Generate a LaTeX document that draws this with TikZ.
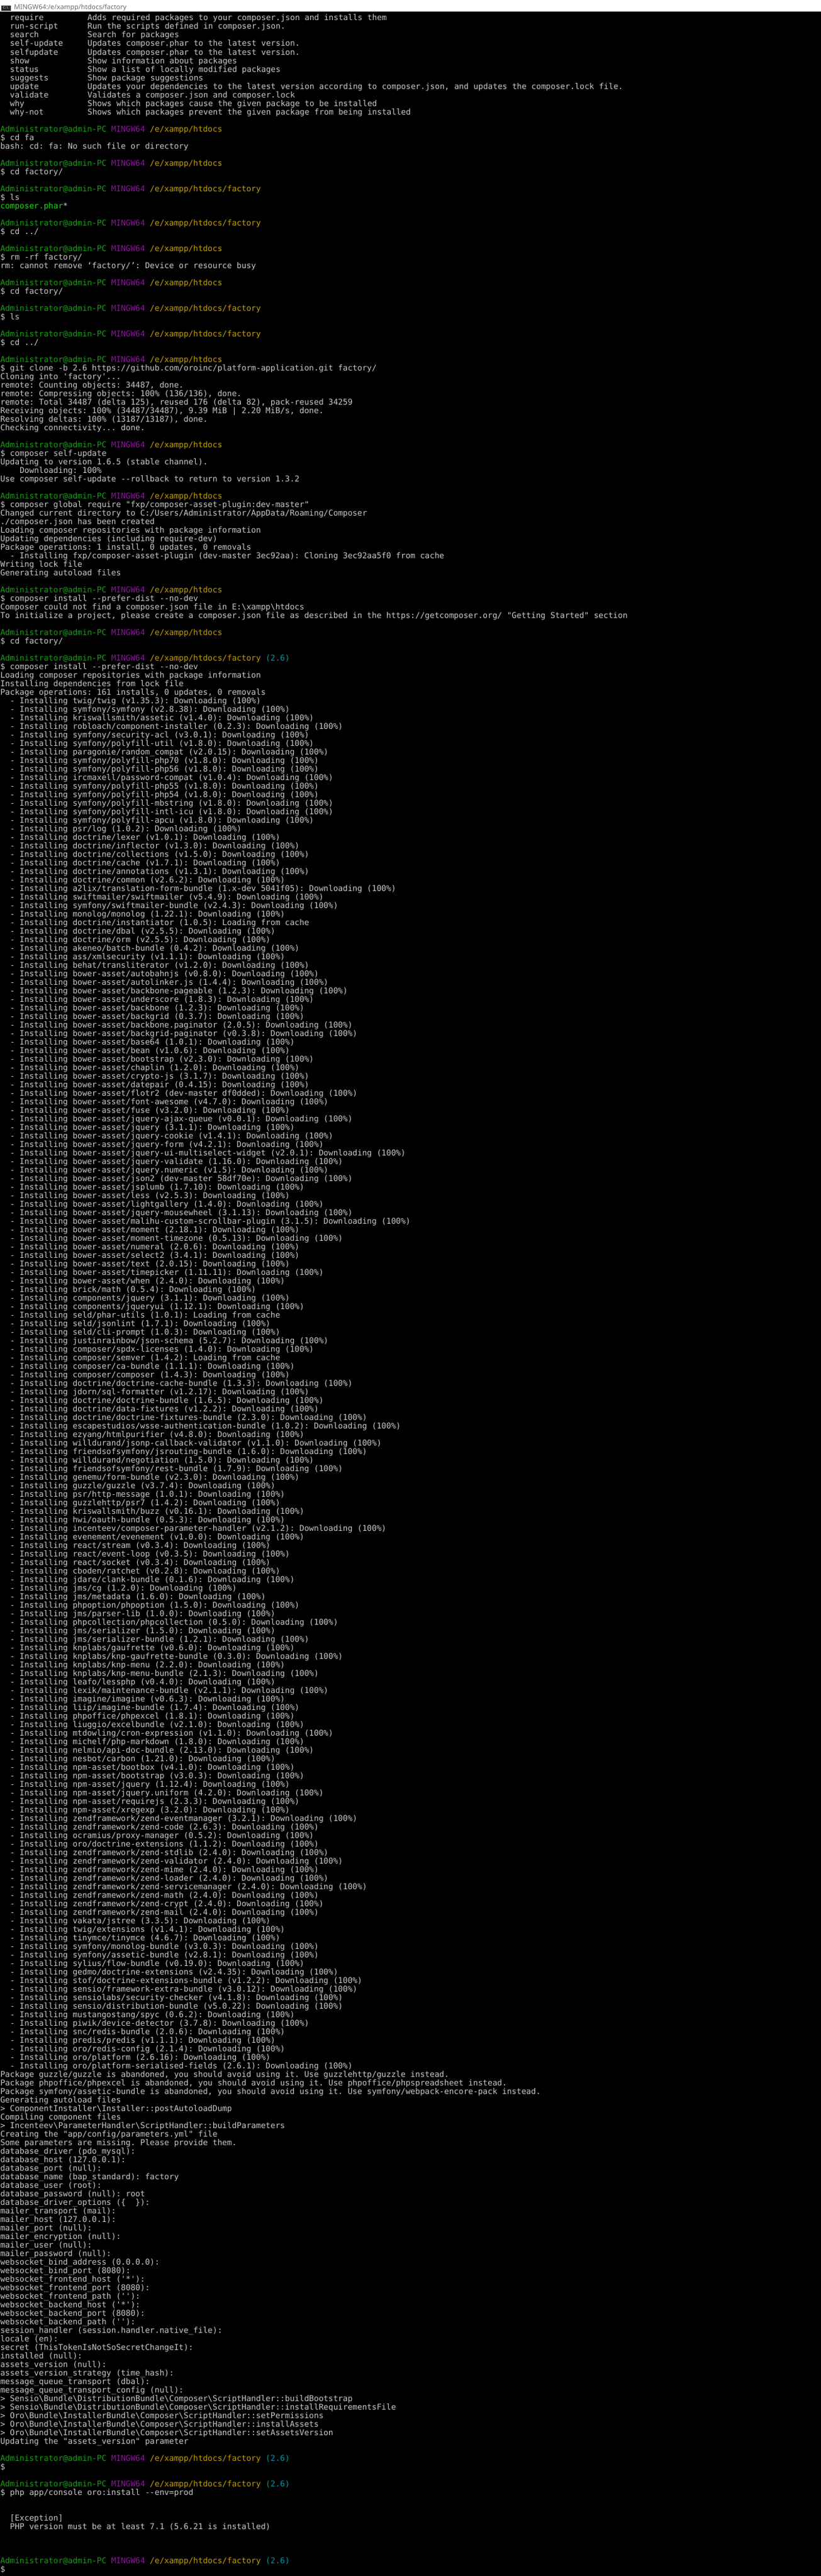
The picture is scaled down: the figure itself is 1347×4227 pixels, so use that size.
\documentclass[tikz,border=0pt]{standalone}
\usepackage{fontspec}
\setmonofont{DejaVu Sans Mono}
\newfontfamily\titlefont{Noto Sans}
\definecolor{tgray}{RGB}{200,200,200}
\definecolor{pgreen}{RGB}{19,161,14}
\definecolor{pmag}{RGB}{136,23,152}
\definecolor{pyel}{RGB}{193,156,0}
\definecolor{pcyan}{RGB}{0,150,160}
\definecolor{bgreen}{RGB}{22,220,12}
\definecolor{titlegray}{RGB}{110,110,110}
\tikzset{
  txt/.style={anchor=base west, inner sep=0pt, outer sep=0pt, text=tgray,
    font=\ttfamily\fontsize{13.2}{14}\selectfont},
  titletxt/.style={anchor=west, inner sep=0pt, text=titlegray, font=\titlefont\fontsize{11}{12}\selectfont}
}
\newcommand\BSL{\textbackslash}
\newcommand\TLine[3]{\node[txt] (l#1) at ({0.5+7.95*#2},{34+14*#1}) {#3};}
\newcommand\TLineX[4]{\node[txt] (#1) at ({0.5+7.95*#3},{34+14*#2}) {#4};}
\newcommand\PR[2]{\TLine{#1}{0}{\textcolor{pgreen}{Administrator@admin-PC} \textcolor{pmag}{MINGW64} \textcolor{pyel}{#2}}}
\newcommand\PRB[1]{\TLine{#1}{0}{\textcolor{pgreen}{Administrator@admin-PC} \textcolor{pmag}{MINGW64} \textcolor{pyel}{/e/xampp/htdocs/factory} \textcolor{pcyan}{(2.6)}}}
\newcommand\Inst[2]{\TLine{#1}{2}{- Installing #2: Downloading (100\%)}}
\newcommand\InstC[2]{\TLine{#1}{2}{- Installing #2: Loading from cache}}
\newcommand\Cmd[3]{\TLineX{c#1}{#1}{2}{#2}\TLineX{d#1}{#1}{18}{#3}}
\begin{document}
\begin{tikzpicture}[x=1bp,y=-1bp]
\useasboundingbox (0,0) rectangle (1347,4227);
\fill[black] (0,19) rectangle (1347,4227);
\fill[white] (0,0) rectangle (1347,19);
% title bar
\node[draw=black!70, fill=black!85, inner sep=0pt, minimum width=15bp, minimum height=8bp, anchor=south west] (icon) at (2,17) {};
\node[inner sep=0pt, text=white, font=\ttfamily\fontsize{5}{5}\selectfont] (iconlbl) at (icon) {C:\BSL};
\node[titletxt] (title) at (23,12.5) {MINGW64:/e/xampp/htdocs/factory};
% command list
\Cmd{0}{require}{Adds required packages to your composer.json and installs them}
\Cmd{1}{run-script}{Run the scripts defined in composer.json.}
\Cmd{2}{search}{Search for packages}
\Cmd{3}{self-update}{Updates composer.phar to the latest version.}
\Cmd{4}{selfupdate}{Updates composer.phar to the latest version.}
\Cmd{5}{show}{Show information about packages}
\Cmd{6}{status}{Show a list of locally modified packages}
\Cmd{7}{suggests}{Show package suggestions}
\Cmd{8}{update}{Updates your dependencies to the latest version according to composer.json, and updates the composer.lock file.}
\Cmd{9}{validate}{Validates a composer.json and composer.lock}
\Cmd{10}{why}{Shows which packages cause the given package to be installed}
\Cmd{11}{why-not}{Shows which packages prevent the given package from being installed}
\PR{13}{/e/xampp/htdocs}
\TLine{14}{0}{\$ cd fa}
\TLine{15}{0}{bash: cd: fa: No such file or directory}
\PR{17}{/e/xampp/htdocs}
\TLine{18}{0}{\$ cd factory/}
\PR{20}{/e/xampp/htdocs/factory}
\TLine{21}{0}{\$ ls}
\TLine{22}{0}{\textcolor{bgreen}{composer.phar}*}
\PR{24}{/e/xampp/htdocs/factory}
\TLine{25}{0}{\$ cd ../}
\PR{27}{/e/xampp/htdocs}
\TLine{28}{0}{\$ rm -rf factory/}
\TLine{29}{0}{rm: cannot remove ‘factory/’: Device or resource busy}
\PR{31}{/e/xampp/htdocs}
\TLine{32}{0}{\$ cd factory/}
\PR{34}{/e/xampp/htdocs/factory}
\TLine{35}{0}{\$ ls}
\PR{37}{/e/xampp/htdocs/factory}
\TLine{38}{0}{\$ cd ../}
\PR{40}{/e/xampp/htdocs}
\TLine{41}{0}{\$ git clone -b 2.6 https://github.com/oroinc/platform-application.git factory/}
\TLine{42}{0}{Cloning into 'factory'...}
\TLine{43}{0}{remote: Counting objects: 34487, done.}
\TLine{44}{0}{remote: Compressing objects: 100\% (136/136), done.}
\TLine{45}{0}{remote: Total 34487 (delta 125), reused 176 (delta 82), pack-reused 34259}
\TLine{46}{0}{Receiving objects: 100\% (34487/34487), 9.39 MiB | 2.20 MiB/s, done.}
\TLine{47}{0}{Resolving deltas: 100\% (13187/13187), done.}
\TLine{48}{0}{Checking connectivity... done.}
\PR{50}{/e/xampp/htdocs}
\TLine{51}{0}{\$ composer self-update}
\TLine{52}{0}{Updating to version 1.6.5 (stable channel).}
\TLine{53}{4}{Downloading: 100\%}
\TLine{54}{0}{Use composer self-update --rollback to return to version 1.3.2}
\PR{56}{/e/xampp/htdocs}
\TLine{57}{0}{\$ composer global require "fxp/composer-asset-plugin:dev-master"}
\TLine{58}{0}{Changed current directory to C:/Users/Administrator/AppData/Roaming/Composer}
\TLine{59}{0}{./composer.json has been created}
\TLine{60}{0}{Loading composer repositories with package information}
\TLine{61}{0}{Updating dependencies (including require-dev)}
\TLine{62}{0}{Package operations: 1 install, 0 updates, 0 removals}
\TLine{63}{2}{- Installing fxp/composer-asset-plugin (dev-master 3ec92aa): Cloning 3ec92aa5f0 from cache}
\TLine{64}{0}{Writing lock file}
\TLine{65}{0}{Generating autoload files}
\PR{67}{/e/xampp/htdocs}
\TLine{68}{0}{\$ composer install --prefer-dist --no-dev}
\TLine{69}{0}{Composer could not find a composer.json file in E:\BSL xampp\BSL htdocs}
\TLine{70}{0}{To initialize a project, please create a composer.json file as described in the https://getcomposer.org/ "Getting Started" section}
\PR{72}{/e/xampp/htdocs}
\TLine{73}{0}{\$ cd factory/}
\PRB{75}
\TLine{76}{0}{\$ composer install --prefer-dist --no-dev}
\TLine{77}{0}{Loading composer repositories with package information}
\TLine{78}{0}{Installing dependencies from lock file}
\TLine{79}{0}{Package operations: 161 installs, 0 updates, 0 removals}
\Inst{80}{twig/twig (v1.35.3)}
\Inst{81}{symfony/symfony (v2.8.38)}
\Inst{82}{kriswallsmith/assetic (v1.4.0)}
\Inst{83}{robloach/component-installer (0.2.3)}
\Inst{84}{symfony/security-acl (v3.0.1)}
\Inst{85}{symfony/polyfill-util (v1.8.0)}
\Inst{86}{paragonie/random\_compat (v2.0.15)}
\Inst{87}{symfony/polyfill-php70 (v1.8.0)}
\Inst{88}{symfony/polyfill-php56 (v1.8.0)}
\Inst{89}{ircmaxell/password-compat (v1.0.4)}
\Inst{90}{symfony/polyfill-php55 (v1.8.0)}
\Inst{91}{symfony/polyfill-php54 (v1.8.0)}
\Inst{92}{symfony/polyfill-mbstring (v1.8.0)}
\Inst{93}{symfony/polyfill-intl-icu (v1.8.0)}
\Inst{94}{symfony/polyfill-apcu (v1.8.0)}
\Inst{95}{psr/log (1.0.2)}
\Inst{96}{doctrine/lexer (v1.0.1)}
\Inst{97}{doctrine/inflector (v1.3.0)}
\Inst{98}{doctrine/collections (v1.5.0)}
\Inst{99}{doctrine/cache (v1.7.1)}
\Inst{100}{doctrine/annotations (v1.3.1)}
\Inst{101}{doctrine/common (v2.6.2)}
\Inst{102}{a2lix/translation-form-bundle (1.x-dev 5041f05)}
\Inst{103}{swiftmailer/swiftmailer (v5.4.9)}
\Inst{104}{symfony/swiftmailer-bundle (v2.4.3)}
\Inst{105}{monolog/monolog (1.22.1)}
\InstC{106}{doctrine/instantiator (1.0.5)}
\Inst{107}{doctrine/dbal (v2.5.5)}
\Inst{108}{doctrine/orm (v2.5.5)}
\Inst{109}{akeneo/batch-bundle (0.4.2)}
\Inst{110}{ass/xmlsecurity (v1.1.1)}
\Inst{111}{behat/transliterator (v1.2.0)}
\Inst{112}{bower-asset/autobahnjs (v0.8.0)}
\Inst{113}{bower-asset/autolinker.js (1.4.4)}
\Inst{114}{bower-asset/backbone-pageable (1.2.3)}
\Inst{115}{bower-asset/underscore (1.8.3)}
\Inst{116}{bower-asset/backbone (1.2.3)}
\Inst{117}{bower-asset/backgrid (0.3.7)}
\Inst{118}{bower-asset/backbone.paginator (2.0.5)}
\Inst{119}{bower-asset/backgrid-paginator (v0.3.8)}
\Inst{120}{bower-asset/base64 (1.0.1)}
\Inst{121}{bower-asset/bean (v1.0.6)}
\Inst{122}{bower-asset/bootstrap (v2.3.0)}
\Inst{123}{bower-asset/chaplin (1.2.0)}
\Inst{124}{bower-asset/crypto-js (3.1.7)}
\Inst{125}{bower-asset/datepair (0.4.15)}
\Inst{126}{bower-asset/flotr2 (dev-master df0dded)}
\Inst{127}{bower-asset/font-awesome (v4.7.0)}
\Inst{128}{bower-asset/fuse (v3.2.0)}
\Inst{129}{bower-asset/jquery-ajax-queue (v0.0.1)}
\Inst{130}{bower-asset/jquery (3.1.1)}
\Inst{131}{bower-asset/jquery-cookie (v1.4.1)}
\Inst{132}{bower-asset/jquery-form (v4.2.1)}
\Inst{133}{bower-asset/jquery-ui-multiselect-widget (v2.0.1)}
\Inst{134}{bower-asset/jquery-validate (1.16.0)}
\Inst{135}{bower-asset/jquery.numeric (v1.5)}
\Inst{136}{bower-asset/json2 (dev-master 58df70e)}
\Inst{137}{bower-asset/jsplumb (1.7.10)}
\Inst{138}{bower-asset/less (v2.5.3)}
\Inst{139}{bower-asset/lightgallery (1.4.0)}
\Inst{140}{bower-asset/jquery-mousewheel (3.1.13)}
\Inst{141}{bower-asset/malihu-custom-scrollbar-plugin (3.1.5)}
\Inst{142}{bower-asset/moment (2.18.1)}
\Inst{143}{bower-asset/moment-timezone (0.5.13)}
\Inst{144}{bower-asset/numeral (2.0.6)}
\Inst{145}{bower-asset/select2 (3.4.1)}
\Inst{146}{bower-asset/text (2.0.15)}
\Inst{147}{bower-asset/timepicker (1.11.11)}
\Inst{148}{bower-asset/when (2.4.0)}
\Inst{149}{brick/math (0.5.4)}
\Inst{150}{components/jquery (3.1.1)}
\Inst{151}{components/jqueryui (1.12.1)}
\InstC{152}{seld/phar-utils (1.0.1)}
\Inst{153}{seld/jsonlint (1.7.1)}
\Inst{154}{seld/cli-prompt (1.0.3)}
\Inst{155}{justinrainbow/json-schema (5.2.7)}
\Inst{156}{composer/spdx-licenses (1.4.0)}
\InstC{157}{composer/semver (1.4.2)}
\Inst{158}{composer/ca-bundle (1.1.1)}
\Inst{159}{composer/composer (1.4.3)}
\Inst{160}{doctrine/doctrine-cache-bundle (1.3.3)}
\Inst{161}{jdorn/sql-formatter (v1.2.17)}
\Inst{162}{doctrine/doctrine-bundle (1.6.5)}
\Inst{163}{doctrine/data-fixtures (v1.2.2)}
\Inst{164}{doctrine/doctrine-fixtures-bundle (2.3.0)}
\Inst{165}{escapestudios/wsse-authentication-bundle (1.0.2)}
\Inst{166}{ezyang/htmlpurifier (v4.8.0)}
\Inst{167}{willdurand/jsonp-callback-validator (v1.1.0)}
\Inst{168}{friendsofsymfony/jsrouting-bundle (1.6.0)}
\Inst{169}{willdurand/negotiation (1.5.0)}
\Inst{170}{friendsofsymfony/rest-bundle (1.7.9)}
\Inst{171}{genemu/form-bundle (v2.3.0)}
\Inst{172}{guzzle/guzzle (v3.7.4)}
\Inst{173}{psr/http-message (1.0.1)}
\Inst{174}{guzzlehttp/psr7 (1.4.2)}
\Inst{175}{kriswallsmith/buzz (v0.16.1)}
\Inst{176}{hwi/oauth-bundle (0.5.3)}
\Inst{177}{incenteev/composer-parameter-handler (v2.1.2)}
\Inst{178}{evenement/evenement (v1.0.0)}
\Inst{179}{react/stream (v0.3.4)}
\Inst{180}{react/event-loop (v0.3.5)}
\Inst{181}{react/socket (v0.3.4)}
\Inst{182}{cboden/ratchet (v0.2.8)}
\Inst{183}{jdare/clank-bundle (0.1.6)}
\Inst{184}{jms/cg (1.2.0)}
\Inst{185}{jms/metadata (1.6.0)}
\Inst{186}{phpoption/phpoption (1.5.0)}
\Inst{187}{jms/parser-lib (1.0.0)}
\Inst{188}{phpcollection/phpcollection (0.5.0)}
\Inst{189}{jms/serializer (1.5.0)}
\Inst{190}{jms/serializer-bundle (1.2.1)}
\Inst{191}{knplabs/gaufrette (v0.6.0)}
\Inst{192}{knplabs/knp-gaufrette-bundle (0.3.0)}
\Inst{193}{knplabs/knp-menu (2.2.0)}
\Inst{194}{knplabs/knp-menu-bundle (2.1.3)}
\Inst{195}{leafo/lessphp (v0.4.0)}
\Inst{196}{lexik/maintenance-bundle (v2.1.1)}
\Inst{197}{imagine/imagine (v0.6.3)}
\Inst{198}{liip/imagine-bundle (1.7.4)}
\Inst{199}{phpoffice/phpexcel (1.8.1)}
\Inst{200}{liuggio/excelbundle (v2.1.0)}
\Inst{201}{mtdowling/cron-expression (v1.1.0)}
\Inst{202}{michelf/php-markdown (1.8.0)}
\Inst{203}{nelmio/api-doc-bundle (2.13.0)}
\Inst{204}{nesbot/carbon (1.21.0)}
\Inst{205}{npm-asset/bootbox (v4.1.0)}
\Inst{206}{npm-asset/bootstrap (v3.0.3)}
\Inst{207}{npm-asset/jquery (1.12.4)}
\Inst{208}{npm-asset/jquery.uniform (4.2.0)}
\Inst{209}{npm-asset/requirejs (2.3.3)}
\Inst{210}{npm-asset/xregexp (3.2.0)}
\Inst{211}{zendframework/zend-eventmanager (3.2.1)}
\Inst{212}{zendframework/zend-code (2.6.3)}
\Inst{213}{ocramius/proxy-manager (0.5.2)}
\Inst{214}{oro/doctrine-extensions (1.1.2)}
\Inst{215}{zendframework/zend-stdlib (2.4.0)}
\Inst{216}{zendframework/zend-validator (2.4.0)}
\Inst{217}{zendframework/zend-mime (2.4.0)}
\Inst{218}{zendframework/zend-loader (2.4.0)}
\Inst{219}{zendframework/zend-servicemanager (2.4.0)}
\Inst{220}{zendframework/zend-math (2.4.0)}
\Inst{221}{zendframework/zend-crypt (2.4.0)}
\Inst{222}{zendframework/zend-mail (2.4.0)}
\Inst{223}{vakata/jstree (3.3.5)}
\Inst{224}{twig/extensions (v1.4.1)}
\Inst{225}{tinymce/tinymce (4.6.7)}
\Inst{226}{symfony/monolog-bundle (v3.0.3)}
\Inst{227}{symfony/assetic-bundle (v2.8.1)}
\Inst{228}{sylius/flow-bundle (v0.19.0)}
\Inst{229}{gedmo/doctrine-extensions (v2.4.35)}
\Inst{230}{stof/doctrine-extensions-bundle (v1.2.2)}
\Inst{231}{sensio/framework-extra-bundle (v3.0.12)}
\Inst{232}{sensiolabs/security-checker (v4.1.8)}
\Inst{233}{sensio/distribution-bundle (v5.0.22)}
\Inst{234}{mustangostang/spyc (0.6.2)}
\Inst{235}{piwik/device-detector (3.7.8)}
\Inst{236}{snc/redis-bundle (2.0.6)}
\Inst{237}{predis/predis (v1.1.1)}
\Inst{238}{oro/redis-config (2.1.4)}
\Inst{239}{oro/platform (2.6.16)}
\Inst{240}{oro/platform-serialised-fields (2.6.1)}
\TLine{241}{0}{Package guzzle/guzzle is abandoned, you should avoid using it. Use guzzlehttp/guzzle instead.}
\TLine{242}{0}{Package phpoffice/phpexcel is abandoned, you should avoid using it. Use phpoffice/phpspreadsheet instead.}
\TLine{243}{0}{Package symfony/assetic-bundle is abandoned, you should avoid using it. Use symfony/webpack-encore-pack instead.}
\TLine{244}{0}{Generating autoload files}
\TLine{245}{0}{> ComponentInstaller\BSL Installer::postAutoloadDump}
\TLine{246}{0}{Compiling component files}
\TLine{247}{0}{> Incenteev\BSL ParameterHandler\BSL ScriptHandler::buildParameters}
\TLine{248}{0}{Creating the "app/config/parameters.yml" file}
\TLine{249}{0}{Some parameters are missing. Please provide them.}
\TLine{250}{0}{database\_driver (pdo\_mysql):}
\TLine{251}{0}{database\_host (127.0.0.1):}
\TLine{252}{0}{database\_port (null):}
\TLine{253}{0}{database\_name (bap\_standard): factory}
\TLine{254}{0}{database\_user (root):}
\TLine{255}{0}{database\_password (null): root}
\TLine{256}{0}{database\_driver\_options (\{\ \ \}):}
\TLine{257}{0}{mailer\_transport (mail):}
\TLine{258}{0}{mailer\_host (127.0.0.1):}
\TLine{259}{0}{mailer\_port (null):}
\TLine{260}{0}{mailer\_encryption (null):}
\TLine{261}{0}{mailer\_user (null):}
\TLine{262}{0}{mailer\_password (null):}
\TLine{263}{0}{websocket\_bind\_address (0.0.0.0):}
\TLine{264}{0}{websocket\_bind\_port (8080):}
\TLine{265}{0}{websocket\_frontend\_host ('*'):}
\TLine{266}{0}{websocket\_frontend\_port (8080):}
\TLine{267}{0}{websocket\_frontend\_path (''):}
\TLine{268}{0}{websocket\_backend\_host ('*'):}
\TLine{269}{0}{websocket\_backend\_port (8080):}
\TLine{270}{0}{websocket\_backend\_path (''):}
\TLine{271}{0}{session\_handler (session.handler.native\_file):}
\TLine{272}{0}{locale (en):}
\TLine{273}{0}{secret (ThisTokenIsNotSoSecretChangeIt):}
\TLine{274}{0}{installed (null):}
\TLine{275}{0}{assets\_version (null):}
\TLine{276}{0}{assets\_version\_strategy (time\_hash):}
\TLine{277}{0}{message\_queue\_transport (dbal):}
\TLine{278}{0}{message\_queue\_transport\_config (null):}
\TLine{279}{0}{> Sensio\BSL Bundle\BSL DistributionBundle\BSL Composer\BSL ScriptHandler::buildBootstrap}
\TLine{280}{0}{> Sensio\BSL Bundle\BSL DistributionBundle\BSL Composer\BSL ScriptHandler::installRequirementsFile}
\TLine{281}{0}{> Oro\BSL Bundle\BSL InstallerBundle\BSL Composer\BSL ScriptHandler::setPermissions}
\TLine{282}{0}{> Oro\BSL Bundle\BSL InstallerBundle\BSL Composer\BSL ScriptHandler::installAssets}
\TLine{283}{0}{> Oro\BSL Bundle\BSL InstallerBundle\BSL Composer\BSL ScriptHandler::setAssetsVersion}
\TLine{284}{0}{Updating the "assets\_version" parameter}
\PRB{286}
\TLine{287}{0}{\$}
\PRB{289}
\TLine{290}{0}{\$ php app/console oro:install --env=prod}
\TLine{293}{2}{[Exception]}
\TLine{294}{2}{PHP version must be at least 7.1 (5.6.21 is installed)}
\PRB{298}
\TLine{299}{0}{\$}
\end{tikzpicture}
\end{document}
